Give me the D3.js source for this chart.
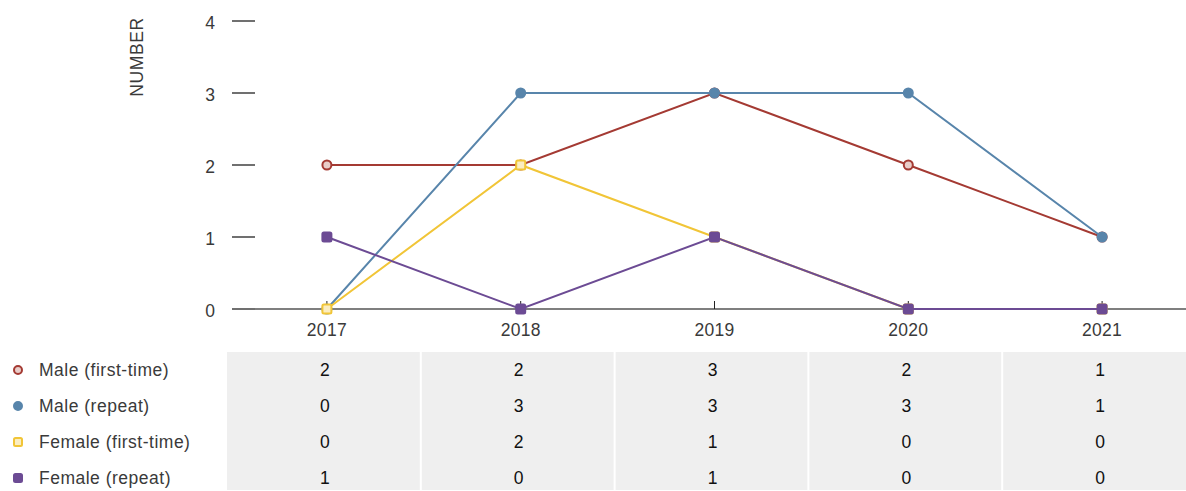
<!DOCTYPE html>
<html>
<head>
<meta charset="utf-8">
<script src="https://cdn.jsdelivr.net/npm/d3@7"></script>
<style>
  body { margin: 0; background: #fff; }
  svg { display: block; font-family: "Liberation Sans", Arial, sans-serif; }
</style>
</head>
<body>
<svg class="vis-principal" width="1186" height="491"></svg>
<script>
// dados
const anos = ["2017", "2018", "2019", "2020", "2021"];
const series = ["Male (first-time)", "Male (repeat)", "Female (first-time)", "Female (repeat)"];
const male_first = [2, 2, 3, 2, 1];
const male_repeat = [0, 3, 3, 3, 1];
const female_first = [0, 2, 1, 0, 0];
const female_repeat = [1, 0, 1, 0, 0];
const y_ticks = [0, 1, 2, 3, 4];

const valores = [male_first, male_repeat, female_first, female_repeat];
const estilos = [
  { cor: "#a43a33", fill: "#e9cdc9", forma: "circle" },
  { cor: "#5885ab", fill: "#5885ab", forma: "circle" },
  { cor: "#f1c537", fill: "#fbedc0", forma: "square" },
  { cor: "#6c4b94", fill: "#6c4b94", forma: "square" }
];

const fonte = 17.5;
const cor_texto = "#3a3a3a";

const svg = d3.select("svg.vis-principal");

const x = d3.scaleBand()
  .domain(anos)
  .range([230, 1199]);

const y = d3.scaleLinear()
  .domain([0, 4])
  .range([309, 21]);

const cx = d => x(d) + x.bandwidth() / 2;

// eixo y: so tracinhos e numeros
const eixo_y = svg.append("g").attr("class", "axis y-axis");
eixo_y.selectAll("line")
  .data(y_ticks)
  .enter()
  .append("line")
  .attr("x1", 232).attr("x2", 255)
  .attr("y1", d => y(d)).attr("y2", d => y(d))
  .attr("stroke", "#222").attr("stroke-width", 1.3);
eixo_y.selectAll("text")
  .data(y_ticks)
  .enter()
  .append("text")
  .attr("x", 215)
  .attr("y", d => y(d) + 2)
  .attr("dy", "0.35em")
  .attr("text-anchor", "end")
  .attr("font-size", fonte)
  .attr("fill", cor_texto)
  .text(d => d);

svg.append("text")
  .attr("transform", "translate(143,57) rotate(-90)")
  .attr("text-anchor", "middle")
  .attr("font-size", fonte)
  .attr("letter-spacing", 0.6)
  .attr("fill", cor_texto)
  .text("NUMBER");

// eixo x
svg.append("line")
  .attr("x1", 255).attr("x2", 1186)
  .attr("y1", y(0)).attr("y2", y(0))
  .attr("stroke", "#555").attr("stroke-width", 1.5);

const eixo_x = svg.append("g").attr("class", "axis x-axis");
eixo_x.selectAll("line")
  .data(anos)
  .enter()
  .append("line")
  .attr("x1", d => cx(d)).attr("x2", d => cx(d))
  .attr("y1", y(0) - 8).attr("y2", y(0))
  .attr("stroke", "#222").attr("stroke-width", 1);
eixo_x.selectAll("text")
  .data(anos)
  .enter()
  .append("text")
  .attr("x", d => cx(d))
  .attr("y", 330)
  .attr("dy", "0.35em")
  .attr("text-anchor", "middle")
  .attr("font-size", fonte)
  .attr("letter-spacing", 0.3)
  .attr("fill", cor_texto)
  .text(d => d);

// linhas
const linha = d3.line()
  .x((d, i) => cx(anos[i]))
  .y(d => y(d));

function desenha_marcador(g, forma, px, py, est, tam) {
  if (forma === "circle") {
    g.append("circle")
      .attr("cx", px).attr("cy", py).attr("r", tam)
      .attr("fill", est.fill).attr("stroke", est.cor).attr("stroke-width", 2);
  } else {
    g.append("rect")
      .attr("x", px - tam).attr("y", py - tam)
      .attr("width", tam * 2).attr("height", tam * 2)
      .attr("rx", 1.5)
      .attr("fill", est.fill).attr("stroke", est.cor).attr("stroke-width", 2);
  }
}

valores.forEach((vals, s) => {
  const est = estilos[s];
  const g = svg.append("g");
  g.append("path")
    .datum(vals)
    .attr("d", linha)
    .attr("fill", "none")
    .attr("stroke", est.cor)
    .attr("stroke-width", 2);
  vals.forEach((v, i) => desenha_marcador(g, est.forma, cx(anos[i]), y(v), est, 4.5));
});

// tabela
const tabela = svg.append("g").attr("class", "tabela");
const linha_h = 36;
const topo = 352;

tabela.append("rect")
  .attr("x", x(anos[0]) - 3).attr("y", topo)
  .attr("width", 1186 - x(anos[0]) + 3).attr("height", linha_h * 4 - 6)
  .attr("fill", "#efefef");

anos.slice(1).forEach(a => {
  tabela.append("line")
    .attr("x1", x(a) - 3).attr("x2", x(a) - 3)
    .attr("y1", topo).attr("y2", topo + linha_h * 4)
    .attr("stroke", "#fff").attr("stroke-width", 2);
});

series.forEach((nome, s) => {
  const yy = 370 + s * linha_h;
  desenha_marcador(tabela, estilos[s].forma, 18, yy, estilos[s], 4);
  tabela.append("text")
    .attr("x", 39).attr("y", yy).attr("dy", "0.35em")
    .attr("font-size", fonte).attr("fill", cor_texto)
    .attr("letter-spacing", 0.5)
    .text(nome);
  valores[s].forEach((v, i) => {
    tabela.append("text")
      .attr("x", cx(anos[i]) - 2).attr("y", yy).attr("dy", "0.35em")
      .attr("text-anchor", "middle")
      .attr("font-size", fonte).attr("fill", "#111")
      .text(v);
  });
});
</script>
</body>
</html>
